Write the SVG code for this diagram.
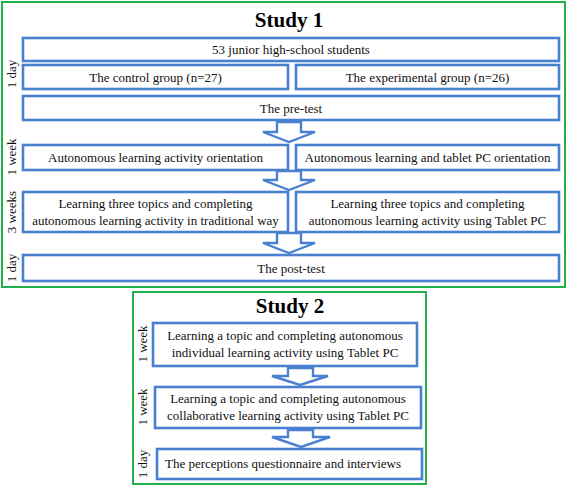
<svg xmlns="http://www.w3.org/2000/svg" width="567" height="487" viewBox="0 0 567 487">
<style>
.frame{fill:#fff;stroke:#22b04a;stroke-width:2}
.box{fill:#fff;stroke:#4a80d0;stroke-width:2.6}
.arr{fill:#fff;stroke:#4a80d0;stroke-width:2.4;stroke-linejoin:miter}
.t{font-family:"Liberation Serif","Times New Roman",serif;font-size:13px;fill:#111;text-anchor:middle}
.h{font-family:"Liberation Serif","Times New Roman",serif;font-size:21px;font-weight:bold;fill:#000;text-anchor:middle}
.s{font-family:"Liberation Serif","Times New Roman",serif;font-size:13px;fill:#111;text-anchor:middle}
</style>
<rect width="567" height="487" fill="#fff"/>
<g id="study1">
<rect class="frame" x="2" y="2" width="563" height="285"/>
<text class="h" x="289" y="27">Study 1</text>
<text class="s" transform="translate(16,74) rotate(-90)">1 day</text>
<text class="s" transform="translate(16,157) rotate(-90)">1 week</text>
<text class="s" transform="translate(16,212) rotate(-90)">3 weeks</text>
<text class="s" transform="translate(16,268) rotate(-90)">1 day</text>
</g>
<g id="n1"><rect class="box" x="23" y="38" width="536" height="23"/><text class="t" x="291" y="54">53 junior high-school students</text></g>
<g id="n2"><rect class="box" x="23" y="65" width="265" height="24"/><text class="t" x="155.5" y="81.5">The control group (n=27)</text></g>
<g id="n3"><rect class="box" x="296" y="65" width="263" height="24"/><text class="t" x="427.5" y="81.5">The experimental group (n=26)</text></g>
<g id="n4"><rect class="box" x="23" y="96" width="536" height="24"/><text class="t" x="291" y="112.5">The pre-test</text></g>
<g id="n5"><rect class="box" x="23" y="145" width="265" height="25"/><text class="t" x="155.5" y="162">Autonomous learning activity orientation</text></g>
<g id="n6"><rect class="box" x="296" y="145" width="263" height="25"/><text class="t" x="427.5" y="162">Autonomous learning and tablet PC orientation</text></g>
<g id="n7"><rect class="box" x="23" y="192" width="265" height="40"/><text class="t" x="155.5" y="208">Learning three topics and completing</text><text class="t" x="155.5" y="225">autonomous learning activity in traditional way</text></g>
<g id="n8"><rect class="box" x="296" y="192" width="263" height="40"/><text class="t" x="427.5" y="208">Learning three topics and completing</text><text class="t" x="427.5" y="225">autonomous learning activity using Tablet PC</text></g>
<g id="n9"><rect class="box" x="23" y="255" width="536" height="26"/><text class="t" x="291" y="272.5">The post-test</text></g>
<g id="study2">
<rect class="frame" x="133" y="292" width="293" height="192"/>
<text class="h" x="290" y="313">Study 2</text>
<text class="s" transform="translate(147,344) rotate(-90)">1 week</text>
<text class="s" transform="translate(147,407) rotate(-90)">1 week</text>
<text class="s" transform="translate(147,464) rotate(-90)">1 day</text>
</g>
<g id="m1"><rect class="box" x="153" y="323" width="264" height="43"/><text class="t" x="285" y="340">Learning a topic and completing autonomous</text><text class="t" x="285" y="357">individual learning activity using Tablet PC</text></g>
<g id="m2"><rect class="box" x="155" y="387" width="266" height="41"/><text class="t" x="288" y="403">Learning a topic and completing autonomous</text><text class="t" x="288" y="420">collaborative learning activity using Tablet PC</text></g>
<g id="m3"><rect class="box" x="157" y="449" width="265" height="30"/><text class="t" x="283" y="468">The perceptions questionnaire and interviews</text></g>
<g id="connectors">
<path class="arr" d="M277,122 H301 V132 H315 L289,142 L263,132 H277 Z"/>
<path class="arr" d="M277,171 H301 V180 H315 L289,190 L263,180 H277 Z"/>
<path class="arr" d="M277,233 H301 V243 H315 L289,253 L263,243 H277 Z"/>
<path class="arr" d="M288,368 H313 V376 H328 L300,385 L272,376 H288 Z"/>
<path class="arr" d="M288,430 H313 V437 H330 L301,447 L272,437 H288 Z"/>
</g>
</svg>
